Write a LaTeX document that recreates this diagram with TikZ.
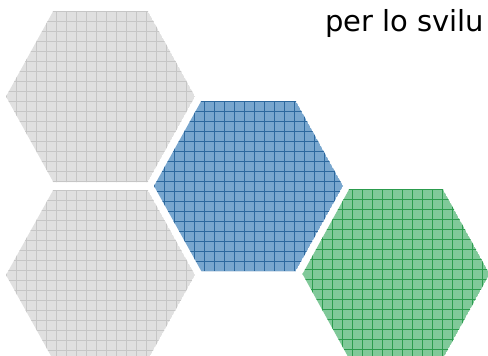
\documentclass[tikz,border=0pt]{standalone}
\usepackage{fontspec}
\setmainfont{DejaVu Sans}
\definecolor{grayfill}{HTML}{E0E0E0}
\definecolor{grayline}{HTML}{C6C6C6}
\definecolor{bluefill}{HTML}{78A6CE}
\definecolor{blueline}{HTML}{2C689E}
\definecolor{greenfill}{HTML}{80C999}
\definecolor{greenline}{HTML}{2C9C4E}
\newcommand{\hexpath}[4]{% cx, cy, w, h
  (#1-#3,#2) -- (#1-#3/2,#2-#4) -- (#1+#3/2,#2-#4) -- (#1+#3,#2) -- (#1+#3/2,#2+#4) -- (#1-#3/2,#2+#4) -- cycle}
\newcommand{\gridhex}[6]{% cx, cy, w, h, fill, line
  \begin{scope}
    \clip \hexpath{#1}{#2}{#3}{#4};
    \fill[#5] \hexpath{#1}{#2}{#3}{#4};
    \begin{scope}[shift={(#1-#3,#2-#4)}]
      \draw[#6, line width=0.75pt, step=10pt] (-5,-5) grid (2*#3+5, 2*#4+5);
    \end{scope}
  \end{scope}}
\begin{document}
\begin{tikzpicture}[x=1pt, y=-1pt]
  \useasboundingbox (0,0) rectangle (488,356);
  \gridhex{100.5}{96.5}{94.5}{85.5}{grayfill}{grayline}
  \gridhex{248.5}{186}{94.5}{85}{bluefill}{blueline}
  \gridhex{100.5}{275}{94.5}{85}{grayfill}{grayline}
  \gridhex{396}{274}{93.5}{85}{greenfill}{greenline}
  \node[anchor=base west, inner sep=0pt, font=\fontsize{29}{34}\selectfont] (title) at (325,31) {per lo svilu};
\end{tikzpicture}
\end{document}
